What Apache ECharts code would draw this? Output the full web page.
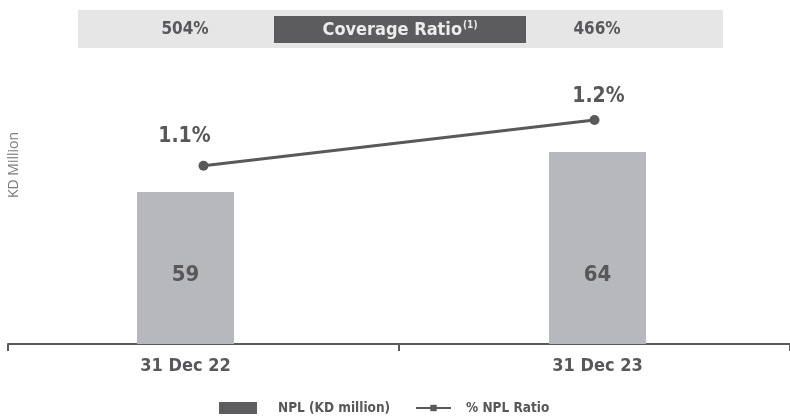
<!DOCTYPE html>
<html>
<head>
<meta charset="utf-8">
<script src="https://cdn.jsdelivr.net/npm/echarts@6/dist/echarts.min.js"></script>
<style>
  html, body { margin: 0; padding: 0; background: #fff; }
  #chart { width: 790px; height: 416px; }
</style>
</head>
<body>
<div id="chart"></div>
<script>
// Period labels
const categories = ['31 Dec 22', '31 Dec 23'];
// Non-performing loans, KD million
const nplValues = [59, 64];
// NPL ratio, %
const nplRatio = [1.1, 1.2];
// Coverage ratio, %
const coverageRatio = [504, 466];

const FONT = "'Liberation Sans Narrow', 'DejaVu Sans Condensed', 'Roboto', sans-serif";
const DARK = '#58585a';
const BAR = '#b7b8bb';

const chart = echarts.init(document.getElementById('chart'), null, { renderer: 'canvas' });

// Per-point label offsets so ratio labels sit above the bars
const ratioLabelOffsets = [[-19, -29], [4, -23]];

chart.setOption({
  animation: false,
  textStyle: { fontFamily: FONT },
  grid: [
    // grid 0: axis line, ticks and ratio line
    { left: 8, width: 782, top: 24, height: 320, containLabel: false, outerBoundsMode: 'none' },
    // grid 1: NPL bars and period labels
    { left: -20.5, width: 824, top: 24, height: 320, containLabel: false, outerBoundsMode: 'none' }
  ],
  xAxis: [
    {
      gridIndex: 0, type: 'category', data: categories, boundaryGap: true,
      axisLine: { show: true, lineStyle: { color: '#5a5a5c', width: 2 } },
      axisTick: { show: true, length: 7, lineStyle: { color: '#5a5a5c', width: 2 } },
      axisLabel: { show: false }
    },
    {
      gridIndex: 1, type: 'category', data: categories, boundaryGap: true,
      axisLine: { show: false }, axisTick: { show: false },
      axisLabel: {
        show: true, margin: 13, color: DARK, fontFamily: FONT,
        fontSize: 18, fontWeight: 'bold'
      }
    }
  ],
  yAxis: [
    { gridIndex: 0, type: 'value', min: 0.71, max: 1.41, show: false },
    { gridIndex: 1, type: 'value', min: 40, max: 80, show: false }
  ],
  legend: [
    {
      left: 219, top: 401, padding: 0, itemWidth: 38, itemHeight: 12, itemGap: 0,
      data: [{ name: 'NPL (KD million)', icon: 'rect', itemStyle: { color: '#5d5d5f' } }],
      textStyle: { color: DARK, fontFamily: FONT, fontSize: 13.5, fontWeight: 'bold', padding: [0, 0, 0, 16] },
      selectedMode: false
    },
    {
      left: 415, top: 401, padding: 0, itemWidth: 35, itemHeight: 8, itemGap: 0,
      data: ['% NPL Ratio'],
      textStyle: { color: DARK, fontFamily: FONT, fontSize: 13.5, fontWeight: 'bold', padding: [0, 0, 0, 10] },
      selectedMode: false
    }
  ],
  series: [
    {
      name: 'NPL (KD million)',
      type: 'bar',
      xAxisIndex: 1, yAxisIndex: 1,
      data: nplValues,
      barWidth: 97,
      itemStyle: { color: BAR },
      label: {
        show: true, position: 'insideBottom', distance: 58,
        color: DARK, fontFamily: FONT, fontSize: 22, fontWeight: 'bold'
      },
      z: 1
    },
    {
      name: '% NPL Ratio',
      type: 'line',
      xAxisIndex: 0, yAxisIndex: 0,
      symbol: 'rect',
      symbolSize: 10,
      data: nplRatio.map((v, i) => ({
        value: v,
        symbol: 'circle',
        label: { offset: ratioLabelOffsets[i] }
      })),
      lineStyle: { color: '#59595b', width: 3 },
      itemStyle: { color: '#59595b' },
      label: {
        show: true, position: 'inside',
        formatter: p => p.value.toFixed(1) + '%',
        color: DARK, fontFamily: FONT, fontSize: 21, fontWeight: 'bold'
      },
      z: 3
    }
  ],
  graphic: [
    // coverage ratio banner
    { type: 'rect', left: 78, top: 10, shape: { width: 645, height: 38 }, style: { fill: '#e6e6e6' }, silent: true },
    { type: 'rect', left: 274, top: 16, shape: { width: 252, height: 27 }, style: { fill: '#5c5c5e' }, silent: true },
    {
      type: 'text', x: 400, y: 30, silent: true,
      style: {
        text: 'Coverage Ratio{sup|(1)}', align: 'center', verticalAlign: 'middle',
        fill: '#ececec', font: "bold 18px " + FONT,
        rich: { sup: { fontSize: 10, fontWeight: 'bold', fill: '#ececec', fontFamily: FONT, padding: [0, 0, 9, 1] } }
      }
    },
    {
      type: 'text', x: 185, y: 30, silent: true,
      style: { text: coverageRatio[0] + '%', align: 'center', verticalAlign: 'middle', fill: DARK, font: "bold 17px " + FONT }
    },
    {
      type: 'text', x: 597, y: 30, silent: true,
      style: { text: coverageRatio[1] + '%', align: 'center', verticalAlign: 'middle', fill: DARK, font: "bold 17px " + FONT }
    },
    // value axis unit
    {
      type: 'text', x: 14, y: 165, rotation: Math.PI / 2, silent: true,
      style: { text: 'KD Million', align: 'center', verticalAlign: 'middle', fill: '#7a7a7c', font: "14px 'Open Sans', sans-serif" }
    }
  ]
});
</script>
</body>
</html>
